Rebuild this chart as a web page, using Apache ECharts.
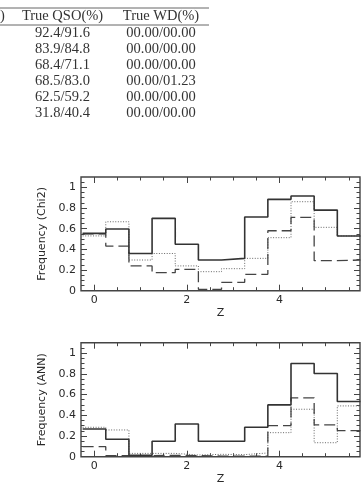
<!DOCTYPE html>
<html>
<head>
<meta charset="utf-8">
<script src="https://cdn.jsdelivr.net/npm/echarts@6/dist/echarts.min.js"></script>
<style>
  html, body { margin: 0; padding: 0; background: #fff; }
  #chart-container { width: 363px; height: 488px; }
</style>
</head>
<body>
<div id="chart-container"></div>
<script>
// table rows (partially visible table above the plots)
const tableHeaders = ["True QSO(%)", "True WD(%)"];
const trueQso = ["92.4/91.6", "83.9/84.8", "68.4/71.1", "68.5/83.0", "62.5/59.2", "31.8/40.4"];
const trueWd = ["00.00/00.00", "00.00/00.00", "00.00/00.00", "00.00/01.23", "00.00/00.00", "00.00/00.00"];

// histogram bin centres in Z
const zCenters = [0, 0.5, 1, 1.5, 2, 2.5, 3, 3.5, 4, 4.5, 5, 5.5];

// Chi2 panel
const chiSolid = [0.555, 0.597, 0.36, 0.70, 0.449, 0.297, 0.313, 0.713, 0.884, 0.916, 0.78, 0.529];
const chiDotted = [0.53, 0.667, 0.297, 0.36, 0.24, 0.184, 0.213, 0.313, 0.513, 0.861, 0.613, 0.53];
const chiDashed = [0.55, 0.432, 0.24, 0.174, 0.207, 0.013, 0.081, 0.158, 0.58, 0.71, 0.29, 0.297];

// ANN panel
const annSolid = [0.268, 0.168, 0.013, 0.149, 0.316, 0.149, 0.149, 0.284, 0.5, 0.90, 0.803, 0.532];
const annDotted = [0.284, 0.258, 0.032, 0.032, 0.016, 0.023, 0.02, 0.036, 0.232, 0.458, 0.135, 0.49];
const annDashed = [0.097, 0.01, 0.01, 0.013, 0.01, 0.006, 0.005, 0.005, 0.30, 0.568, 0.307, 0.252];

// tick labels
const xMajor = [0, 2, 4];
const xMinor = [0, 0.5, 1, 1.5, 2, 2.5, 3, 3.5, 4, 4.5, 5, 5.5];
const yMajor = [0, 0.2, 0.4, 0.6, 0.8, 1];
const yMinor = [0, 0.05, 0.1, 0.15, 0.2, 0.25, 0.3, 0.35, 0.4, 0.45, 0.5, 0.55, 0.6, 0.65, 0.7, 0.75, 0.8, 0.85, 0.9, 0.95, 1, 1.05];

const halfBin = (zCenters[1] - zCenters[0]) / 2;
const last = zCenters.length - 1;

function steps(vals) {
  const pts = zCenters.map((z, i) => [z - halfBin, vals[i]]);
  pts.push([zCenters[last] + halfBin, vals[last]]);
  return pts;
}

const font = "DejaVu Sans";
const textColor = "#2a2a2a";
const tickColor = "#444";

function xAxes(gridIndex) {
  const base = {
    type: "value", gridIndex: gridIndex, min: -0.285, max: 5.74,
    axisLine: { show: false, onZero: false }, splitLine: { show: false },
  };
  return [
    Object.assign({}, base, {
      position: "bottom", name: "Z", nameLocation: "middle", nameGap: 17,
      nameTextStyle: { fontFamily: font, fontSize: 11, color: textColor },
      axisTick: { inside: true, length: 6, customValues: xMajor, lineStyle: { color: tickColor } },
      axisLabel: { customValues: xMajor, margin: 4, fontFamily: font, fontSize: 11, color: textColor },
    }),
    Object.assign({}, base, {
      position: "bottom",
      axisTick: { inside: true, length: 3.5, customValues: xMinor, lineStyle: { color: tickColor } },
      axisLabel: { show: false },
    }),
    Object.assign({}, base, {
      position: "top",
      axisTick: { inside: true, length: 6, customValues: xMajor, lineStyle: { color: tickColor } },
      axisLabel: { show: false },
    }),
    Object.assign({}, base, {
      position: "top",
      axisTick: { inside: true, length: 3.5, customValues: xMinor, lineStyle: { color: tickColor } },
      axisLabel: { show: false },
    }),
  ];
}

function yAxes(gridIndex, title) {
  const base = {
    type: "value", gridIndex: gridIndex, min: 0, max: 1.1,
    axisLine: { show: false, onZero: false }, splitLine: { show: false },
  };
  return [
    Object.assign({}, base, {
      position: "left", name: title, nameLocation: "middle", nameGap: 27,
      nameTextStyle: { fontFamily: font, fontSize: 11, color: textColor },
      axisTick: { inside: true, length: 6, customValues: yMajor, lineStyle: { color: tickColor } },
      axisLabel: { customValues: yMajor, margin: 5, fontFamily: font, fontSize: 11, color: textColor },
    }),
    Object.assign({}, base, {
      position: "left",
      axisTick: { inside: true, length: 3.5, customValues: yMinor, lineStyle: { color: tickColor } },
      axisLabel: { show: false },
    }),
    Object.assign({}, base, {
      position: "right",
      axisTick: { inside: true, length: 6, customValues: yMajor, lineStyle: { color: tickColor } },
      axisLabel: { show: false },
    }),
    Object.assign({}, base, {
      position: "right",
      axisTick: { inside: true, length: 3.5, customValues: yMinor, lineStyle: { color: tickColor } },
      axisLabel: { show: false },
    }),
  ];
}

function histSeries(axisIndex, solid, dotted, dashed) {
  const common = {
    type: "line", step: "end", symbol: "none", silent: true,
    xAxisIndex: axisIndex, yAxisIndex: axisIndex, clip: true,
  };
  return [
    Object.assign({}, common, { data: steps(dotted), lineStyle: { color: "#666", width: 1, type: [1, 1.6] } }),
    Object.assign({}, common, { data: steps(dashed), lineStyle: { color: "#444", width: 1.3, type: [11, 5] } }),
    Object.assign({}, common, { data: steps(solid), lineStyle: { color: "#333", width: 1.6 } }),
  ];
}

// table drawn as text elements
const tableFont = "14.5px 'Liberation Serif'";
const colX = [62.5, 161];
const tableGraphics = [
  { type: "line", shape: { x1: 0, y1: 8, x2: 209, y2: 8 }, style: { stroke: "#666", lineWidth: 1 } },
  { type: "line", shape: { x1: 0, y1: 25, x2: 209, y2: 25 }, style: { stroke: "#666", lineWidth: 1 } },
  { type: "text", x: 0, y: 16, style: { text: ")", font: tableFont, fill: "#333", verticalAlign: "middle" } },
];
tableHeaders.forEach((h, j) => {
  tableGraphics.push({ type: "text", x: colX[j], y: 16.5,
    style: { text: h, font: tableFont, fill: "#333", align: "center", verticalAlign: "middle" } });
});
[trueQso, trueWd].forEach((col, j) => {
  col.forEach((v, i) => {
    tableGraphics.push({ type: "text", x: colX[j], y: 33.5 + i * 16,
      style: { text: v, font: tableFont, fill: "#333", align: "center", verticalAlign: "middle" } });
  });
});

const chartContainer = document.getElementById("chart-container");
const myChart = echarts.init(chartContainer);

const option = {
  animation: false,
  backgroundColor: "#fff",
  graphic: tableGraphics,
  grid: [
    { left: 81, top: 177, width: 279, height: 113.7, show: true, borderColor: "#444", borderWidth: 1.4, backgroundColor: "transparent" },
    { left: 81, top: 342.7, width: 279, height: 114, show: true, borderColor: "#444", borderWidth: 1.4, backgroundColor: "transparent" },
  ],
  xAxis: xAxes(0).concat(xAxes(1)),
  yAxis: yAxes(0, "Frequency (Chi2)").concat(yAxes(1, "Frequency (ANN)")),
  series: histSeries(0, chiSolid, chiDotted, chiDashed).concat(histSeries(4, annSolid, annDotted, annDashed)),
};
myChart.setOption(option);
</script>
</body>
</html>
